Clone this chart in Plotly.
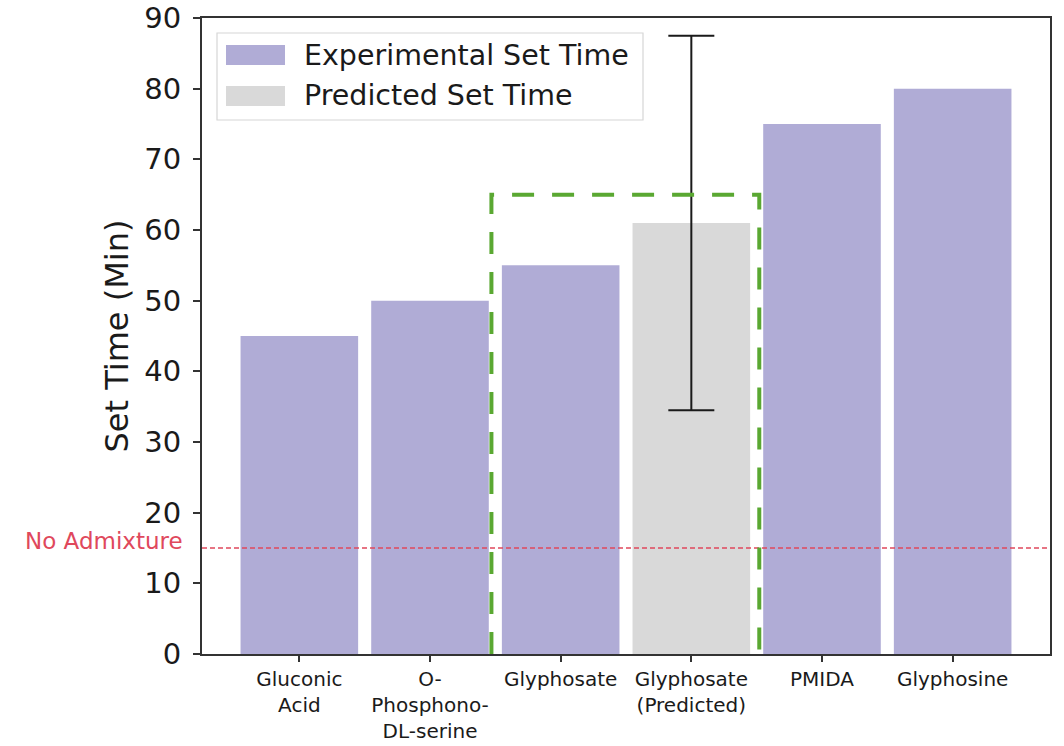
import plotly.graph_objects as go

# Set-time data (minutes)
categories = ["Gluconic<br>Acid", "O-<br>Phosphono-<br>DL-serine", "Glyphosate",
              "Glyphosate<br>(Predicted)", "PMIDA", "Glyphosine"]
exp_idx = [0, 1, 2, 4, 5]
exp_values = [45, 50, 55, 75, 80]
pred_idx = [3]
pred_values = [61]
pred_error = [26.5]
no_admixture = 15
highlight_top = 65
legend_labels = ["Experimental Set Time", "Predicted Set Time"]

purple = "#b0acd6"
grey = "#d9d9d9"
red = "#e0485c"
green = "#5aa832"
font = "DejaVu Sans"

# plot-area geometry in pixels, used to place the hand-built legend
W, H = 1064, 746
ML, MR, MT, MB = 202, 14, 18, 92
PW, PH = W - ML - MR, H - MT - MB


def px_x(p):
    return (p - ML) / PW


def px_y(p):
    return (H - MB - p) / PH


fig = go.Figure()
fig.add_trace(go.Bar(
    x=exp_idx, y=exp_values, width=0.9, name=legend_labels[0],
    marker=dict(color=purple, line=dict(width=0)),
))
fig.add_trace(go.Bar(
    x=pred_idx, y=pred_values, width=0.9, name=legend_labels[1],
    marker=dict(color=grey, line=dict(width=0)),
    error_y=dict(type="data", array=pred_error, color="#1a1a1a",
                 thickness=2, width=23),
))

# Reference line for the mix without admixture
fig.add_shape(type="line", xref="paper", x0=0, x1=1, yref="y",
              y0=no_admixture, y1=no_admixture, layer="above",
              line=dict(color=red, width=1.5, dash="5px,3px"))
fig.add_annotation(xref="paper", x=-0.02, y=no_admixture, yref="y",
                   text="No Admixture", showarrow=False, xanchor="right",
                   yanchor="middle", yshift=7,
                   font=dict(family=font, size=23, color=red))

# Open highlight box around the two glyphosate bars (no bottom edge)
x0, x1 = 1.47, 3.52
fig.add_shape(type="path", layer="above",
              path=f"M {x0},0 L {x0},{highlight_top} L {x1},{highlight_top} L {x1},0",
              line=dict(color=green, width=4, dash="22px,18px"))

# Legend box with wide swatches
fig.add_shape(type="rect", xref="paper", yref="paper", layer="above",
              x0=px_x(217), x1=px_x(643), y0=px_y(120), y1=px_y(33),
              fillcolor="rgba(255,255,255,0.85)",
              line=dict(color="#d6d6d6", width=1.2))
for (top, bot), colour, label in zip([(45, 65), (86, 106)], [purple, grey],
                                     legend_labels):
    fig.add_shape(type="rect", xref="paper", yref="paper", layer="above",
                  x0=px_x(226), x1=px_x(285), y0=px_y(bot), y1=px_y(top),
                  fillcolor=colour, line=dict(width=0))
    fig.add_annotation(xref="paper", yref="paper", x=px_x(302),
                       y=px_y((top + bot) / 2), text=label, showarrow=False,
                       xanchor="left", yanchor="middle",
                       font=dict(family=font, size=28.5, color="#1a1a1a"))

fig.update_layout(
    width=W, height=H,
    margin=dict(l=ML, r=MR, t=MT, b=MB),
    paper_bgcolor="white", plot_bgcolor="white",
    font=dict(family=font, color="#1a1a1a"),
    barmode="overlay",
    showlegend=False,
    xaxis=dict(range=[-0.745, 5.745], tickmode="array",
               tickvals=list(range(len(categories))), ticktext=categories,
               tickfont=dict(size=20, family=font, color="#1a1a1a"),
               showline=True, linecolor="#333333", linewidth=2, mirror=True,
               ticks="outside", ticklen=6, tickwidth=1.5, tickcolor="#333333",
               showgrid=False, zeroline=False, automargin=False),
    yaxis=dict(range=[0, 90], tickvals=list(range(0, 91, 10)),
               tickfont=dict(size=29, family=font),
               ticklabelstandoff=6,
               title=dict(text="Set Time (Min)", font=dict(size=32, family=font),
                          standoff=6),
               showline=True, linecolor="#333333", linewidth=2, mirror=True,
               ticks="outside", ticklen=7, tickwidth=1.5, tickcolor="#333333",
               showgrid=False, zeroline=False, automargin=False),
)

fig.write_html("out.html")
